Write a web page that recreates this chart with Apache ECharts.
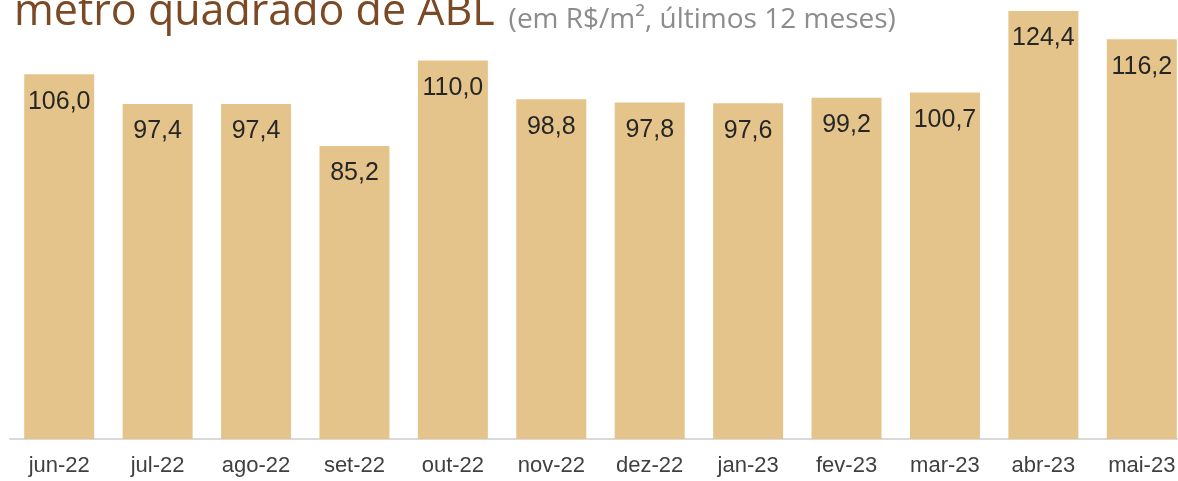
<!DOCTYPE html>
<html>
<head>
<meta charset="utf-8">
<script src="https://cdn.jsdelivr.net/npm/echarts@6/dist/echarts.min.js"></script>
<style>
  html, body { margin: 0; padding: 0; background: #fff; overflow: hidden; }
  #chart { width: 1191px; height: 481px; }
</style>
</head>
<body>
<div id="chart"></div>
<script>
  const months = ["jun-22", "jul-22", "ago-22", "set-22", "out-22", "nov-22",
    "dez-22", "jan-23", "fev-23", "mar-23", "abr-23", "mai-23"];
  const values = [106.0, 97.4, 97.4, 85.2, 110.0, 98.8, 97.8, 97.6, 99.2, 100.7, 124.4, 116.2];

  const titleMain = "metro quadrado de ABL";
  const titleSub = "(em R$/m², últimos 12 meses)";

  // número no formato brasileiro
  const fmt = v => v.toFixed(1).replace(".", ",");

  const chart = echarts.init(document.getElementById("chart"));

  chart.setOption({
    animation: false,
    title: {
      left: 9,
      top: -21,
      text: `{a|${titleMain}}{gap|}{b|${titleSub}}`,
      textStyle: {
        fontWeight: "normal",
        rich: {
          a: { fontFamily: "Open Sans", fontWeight: "normal", fontSize: 43, color: "#7B4A25", verticalAlign: "bottom", lineHeight: 50 },
          gap: { width: 14 },
          b: { fontFamily: "Open Sans", fontWeight: "normal", fontSize: 28, color: "#8C8C8C", verticalAlign: "bottom", lineHeight: 39 }
        }
      }
    },
    grid: { left: 10, top: 9, bottom: 42, right: 0 },
    xAxis: {
      type: "category",
      data: months,
      axisTick: { show: false },
      axisLine: { lineStyle: { color: "#D9D9D9", width: 2 } },
      axisLabel: {
        interval: 0,
        margin: 16,
        fontFamily: "Liberation Sans",
        fontSize: 22,
        color: "#404040"
      }
    },
    yAxis: {
      type: "value",
      min: 0,
      max: 125,
      show: false,
      splitLine: { show: false }
    },
    series: [
      {
        type: "bar",
        data: values,
        barWidth: 70,
        itemStyle: { color: "#E4C48B" },
        label: {
          show: true,
          position: "insideTop",
          distance: 15,
          formatter: p => fmt(p.value),
          fontFamily: "Liberation Sans",
          fontSize: 25,
          color: "#262626"
        }
      }
    ]
  });
</script>
</body>
</html>
